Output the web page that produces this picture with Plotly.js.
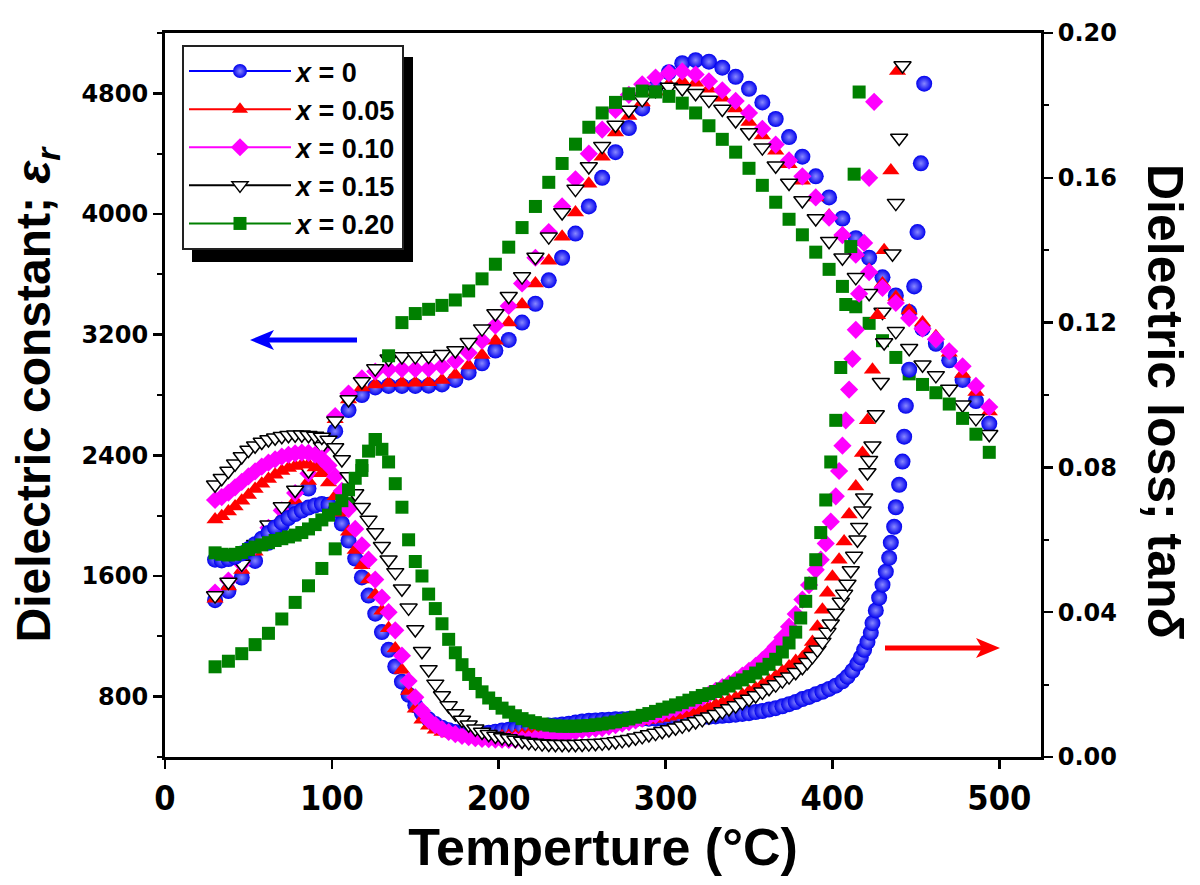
<!DOCTYPE html>
<html>
<head>
<meta charset="utf-8">
<script src="https://cdn.plot.ly/plotly-3.0.1.min.js"></script>
<style>html,body{margin:0;padding:0;background:#fff;}#chart{width:1200px;height:885px;}</style>
</head>
<body>
<div id="chart"></div>
<script>
// ---------- DATA ----------
const seriesNames = ['<i>x</i> = 0', '<i>x</i> = 0.05', '<i>x</i> = 0.10', '<i>x</i> = 0.15', '<i>x</i> = 0.20'];

// Dielectric constant (left axis) — temperature grid (°C)
const epsT = [30,38,46,54,62,70,78,86,94,102,
              110,118,126,134,142,150,158,166,174,182,
              190,198,206,214,222,230,238,246,254,262,
              270,278,286,294,302,310,318,326,334,342,
              350,358,366,374,382,390,398,406,414,422,
              430,438,446,454,462,470,478,486,494];

const eps_x000 = [1440,1500,1590,1700,1820,1940,2050,2180,2350,2560,
                  2700,2800,2850,2860,2860,2860,2862,2870,2900,2950,
                  3010,3095,3165,3280,3405,3560,3710,3870,4050,4240,
                  4410,4570,4700,4840,4940,5000,5020,5010,4970,4910,
                  4830,4740,4630,4510,4380,4250,4110,3970,3840,3710,
                  3580,3460,3350,3240,3140,3030,2900,2760,2610];
const eps_x005 = [1450,1530,1640,1760,1880,1990,2100,2230,2390,2640,
                  2770,2850,2870,2880,2882,2882,2884,2900,2935,2995,
                  3065,3160,3280,3400,3540,3690,3850,4010,4200,4380,
                  4540,4650,4740,4810,4860,4880,4870,4830,4770,4700,
                  4610,4520,4420,4330,4220,4110,3990,3870,3740,3630,
                  3540,3450,3360,3280,3190,3080,2940,2820,2690];
const eps_x010 = [1490,1570,1680,1800,1920,2035,2150,2280,2440,2660,
                  2810,2910,2955,2970,2972,2972,2975,2990,3025,3080,
                  3160,3260,3390,3540,3710,3880,4050,4230,4400,4560,
                  4690,4790,4860,4905,4935,4945,4925,4880,4820,4750,
                  4670,4565,4460,4355,4250,4110,3975,3860,3730,3615,
                  3510,3410,3310,3240,3170,3090,2990,2860,2720];
const eps_x015 = [1470,1560,1680,1810,1940,2060,2170,2300,2460,2630,
                  2770,2890,2975,3040,3055,3056,3058,3070,3095,3150,
                  3240,3340,3455,3585,3715,3850,4010,4165,4315,4450,
                  4590,4690,4760,4820,4842,4832,4800,4755,4696,4620,
                  4540,4440,4320,4205,4090,3970,3820,3710,3580,3475,
                  3350,3222,3110,3000,2930,2840,2735,2645,2540];
const eps_x020 = [998,1035,1085,1145,1220,1315,1425,1535,1650,1780,
                  2080,2300,2505,3060,3280,3340,3368,3394,3430,3490,
                  3570,3667,3780,3910,4050,4210,4335,4463,4575,4670,
                  4740,4797,4815,4809,4780,4735,4670,4585,4495,4410,
                  4303,4190,4078,3965,3862,3747,3633,3520,3385,3275,
                  3160,3049,2940,2870,2815,2740,2645,2540,2420];

// Dielectric loss (right axis) — common low-temperature grid (°C)
const lossBaseT = [30,34,38,42,46,50,54,58,62,66,70,
                   74,78,82,86,90,94,98,102,106,110,114,
                   118,122,126,130,134,138,142,146,150,154,158,
                   162,166,170,174,178,182,186,190,194,198,202,
                   206,210,214,218,222,226,230,234,238,242,246,
                   250,254,258,262,266,270,274,278,282,286,290,
                   294,298,302,306,310,314,318,322,326,330,334,
                   338,342,346,350,354,358,362,366,370,374,378];

const loss_x000 = [0.0545,0.0543,0.0547,0.0553,0.0562,0.0574,0.0588,0.0603,0.0619,0.0634,0.0648,
                   0.0660,0.0671,0.0681,0.0689,0.0695,0.0699,0.0697,0.0680,0.0645,0.0598,0.0548,
                   0.0496,0.0446,0.0396,0.0345,0.0296,0.0250,0.0208,0.0172,0.0143,0.0121,0.0104,
                   0.0091,0.0081,0.0074,0.0069,0.0066,0.0064,0.0064,0.0065,0.0067,0.0070,0.0073,
                   0.0075,0.0077,0.0079,0.0081,0.0083,0.0085,0.0087,0.0088,0.0090,0.0092,0.0095,
                   0.0098,0.0100,0.0101,0.0102,0.0103,0.0104,0.0104,0.0105,0.0105,0.0106,0.0106,
                   0.0106,0.0106,0.0107,0.0107,0.0108,0.0108,0.0109,0.0110,0.0111,0.0112,0.0114,
                   0.0115,0.0117,0.0119,0.0121,0.0124,0.0127,0.0131,0.0135,0.0140,0.0146,0.0152];
const lossTailT_x000 = [382,386,390,394,398,402,406,409,412,415,417,419,421,423,424,426,
                        428,430,432,434,435,437,438,440,442,443,444,446,449,451,453,455];
const lossTail_x000 = [0.0160,0.0166,0.0173,0.0180,0.0188,0.0197,0.0209,0.0222,0.0238,0.0258,0.0275,0.0296,0.0318,0.0343,0.0370,0.0405,
                       0.0440,0.0476,0.0512,0.0550,0.0592,0.0636,0.0690,0.0752,0.0816,0.0885,0.0970,0.1070,0.1300,0.1450,0.1640,0.1860];

const loss_x005 = [0.0656,0.0665,0.0678,0.0692,0.0708,0.0724,0.0740,0.0755,0.0768,0.0780,0.0790,
                   0.0798,0.0804,0.0808,0.0808,0.0800,0.0784,0.0758,0.0720,0.0675,0.0622,0.0572,
                   0.0530,0.0490,0.0448,0.0404,0.0356,0.0300,0.0240,0.0182,0.0133,0.0103,0.0086,
                   0.0075,0.0069,0.0065,0.0062,0.0060,0.0058,0.0057,0.0056,0.0056,0.0056,0.0057,
                   0.0058,0.0059,0.0061,0.0063,0.0065,0.0067,0.0069,0.0071,0.0073,0.0075,0.0077,
                   0.0079,0.0081,0.0083,0.0085,0.0087,0.0089,0.0091,0.0093,0.0096,0.0099,0.0102,
                   0.0105,0.0108,0.0111,0.0115,0.0119,0.0123,0.0128,0.0133,0.0138,0.0144,0.0150,
                   0.0157,0.0164,0.0172,0.0181,0.0190,0.0200,0.0211,0.0223,0.0236,0.0250,0.0265];
const lossTailT_x005 = [382,385,388,391,394,397,400,404,407,410,414,418,421,424,427,431,435,439];
const lossTail_x005 = [0.0275,0.0290,0.0318,0.0360,0.0407,0.0454,0.0498,0.0545,0.0595,0.0670,0.0747,0.0840,0.0930,0.1070,0.1220,0.1400,0.1620,0.1895];

const loss_x010 = [0.0710,0.0718,0.0730,0.0745,0.0760,0.0775,0.0789,0.0802,0.0813,0.0822,0.0830,
                   0.0835,0.0839,0.0841,0.0840,0.0835,0.0824,0.0805,0.0775,0.0735,0.0685,0.0630,
                   0.0585,0.0545,0.0490,0.0440,0.0400,0.0350,0.0280,0.0210,0.0165,0.0128,0.0102,
                   0.0088,0.0077,0.0069,0.0063,0.0058,0.0055,0.0052,0.0050,0.0049,0.0048,0.0048,
                   0.0047,0.0047,0.0048,0.0049,0.0051,0.0053,0.0056,0.0059,0.0062,0.0066,0.0070,
                   0.0074,0.0076,0.0078,0.0080,0.0084,0.0088,0.0092,0.0096,0.0101,0.0106,0.0111,
                   0.0116,0.0122,0.0128,0.0134,0.0141,0.0148,0.0156,0.0164,0.0173,0.0183,0.0193,
                   0.0203,0.0213,0.0225,0.0238,0.0252,0.0268,0.0285,0.0305,0.0330,0.0360,0.0395];
const lossTailT_x010 = [382,386,390,393,396,399,402,404,406,408,410,412,414,416,419,422,425];
const lossTail_x010 = [0.0435,0.0475,0.0517,0.0545,0.0590,0.0650,0.0720,0.0790,0.0860,0.0930,0.1015,0.1100,0.1180,0.1280,0.1420,0.1600,0.1810];

const loss_x015 = [0.0752,0.0770,0.0790,0.0810,0.0830,0.0848,0.0860,0.0870,0.0877,0.0882,0.0886,
                   0.0889,0.0890,0.0890,0.0889,0.0887,0.0884,0.0876,0.0855,0.0822,0.0775,0.0728,
                   0.0690,0.0655,0.0620,0.0582,0.0545,0.0510,0.0465,0.0412,0.0352,0.0292,0.0242,
                   0.0202,0.0170,0.0142,0.0120,0.0102,0.0089,0.0078,0.0069,0.0063,0.0058,0.0054,
                   0.0051,0.0047,0.0044,0.0041,0.0039,0.0037,0.0036,0.0035,0.0035,0.0035,0.0035,
                   0.0036,0.0037,0.0038,0.0039,0.0041,0.0043,0.0046,0.0049,0.0053,0.0057,0.0062,
                   0.0066,0.0071,0.0076,0.0081,0.0086,0.0092,0.0098,0.0104,0.0111,0.0118,0.0126,
                   0.0134,0.0142,0.0151,0.0160,0.0170,0.0180,0.0190,0.0200,0.0211,0.0222,0.0234];
const lossTailT_x015 = [382,385,388,391,394,397,399,402,405,407,409,411,413,415,416,418,419,421,422,424,426,429,431,436,438,440,442];
const lossTail_x015 = [0.0248,0.0262,0.0278,0.0296,0.0318,0.0345,0.0368,0.0398,0.0428,0.0450,0.0478,0.0515,0.0555,0.0600,
                       0.0635,0.0680,0.0716,0.0786,0.0820,0.0860,0.0946,0.1035,0.1145,0.1390,0.1530,0.1710,0.1910];

const loss_x020 = [0.0564,0.0560,0.0558,0.0560,0.0565,0.0573,0.0580,0.0586,0.0592,0.0598,0.0603,
                   0.0608,0.0613,0.0620,0.0630,0.0642,0.0655,0.0668,0.0685,0.0708,0.0738,0.0770,
                   0.0805,0.0845,0.0877,0.0850,0.0815,0.0755,0.0690,0.0600,0.0540,0.0500,0.0450,
                   0.0410,0.0368,0.0325,0.0288,0.0255,0.0228,0.0203,0.0180,0.0163,0.0148,0.0135,
                   0.0124,0.0114,0.0106,0.0100,0.0095,0.0091,0.0088,0.0086,0.0085,0.0085,0.0085,
                   0.0086,0.0087,0.0089,0.0091,0.0094,0.0097,0.0101,0.0105,0.0110,0.0115,0.0120,
                   0.0126,0.0132,0.0138,0.0144,0.0150,0.0157,0.0164,0.0170,0.0175,0.0181,0.0188,
                   0.0196,0.0204,0.0213,0.0222,0.0232,0.0243,0.0256,0.0270,0.0290,0.0315,0.0345];
const lossTailT_x020 = [381,384,387,390,393,396,399,402,405,408,411,413,416];
const lossTail_x020 = [0.0384,0.0430,0.0480,0.0545,0.0620,0.0710,0.0815,0.0930,0.1076,0.1250,0.1410,0.1610,0.1837];

const xTickVals = [0,100,200,300,400,500];

// ---------- STYLE ----------
const NARROW = "'Liberation Sans Narrow','Arial Narrow','DejaVu Sans Condensed',sans-serif";
const WIDE = "'DejaVu Sans',Verdana,sans-serif";
const ARIAL = "'Liberation Sans',Arial,sans-serif";

const markers = [
  {symbol:'circle', size:16, color:'#0000ee', gradient:{type:'radial', color:'#8888ff'}, line:{width:0}},
  {symbol:'triangle-up', size:15, color:'#ff0000', line:{width:0}},
  {symbol:'diamond', size:14, color:'#ff00ff', line:{width:0}},
  {symbol:'triangle-down', size:15, color:'#ffffff', line:{width:1.5, color:'#000000'}},
  {symbol:'square', size:13, color:'#008000', line:{width:0}}
];
const lineColors = ['#0000ff', '#ff0000', '#ff00ff', '#000000', '#008000'];

const epsData = [eps_x000, eps_x005, eps_x010, eps_x015, eps_x020];
const lossBase = [loss_x000, loss_x005, loss_x010, loss_x015, loss_x020];
const lossTailT = [lossTailT_x000, lossTailT_x005, lossTailT_x010, lossTailT_x015, lossTailT_x020];
const lossTail = [lossTail_x000, lossTail_x005, lossTail_x010, lossTail_x015, lossTail_x020];

const traces = [];
// legend entries (line + symbol)
for (let i = 0; i < 5; i++) {
  traces.push({
    type:'scatter', mode:'lines+markers', x:[null], y:[null],
    name: seriesNames[i], legendgroup:'g'+i, showlegend:true,
    line:{color: lineColors[i], width:2},
    marker: Object.assign({}, markers[i], {size: Math.min(markers[i].size, 14)}),
    hoverinfo:'skip'
  });
}
// dielectric constant
for (let i = 0; i < 5; i++) {
  traces.push({
    type:'scatter', mode:'markers', x: epsT, y: epsData[i], yaxis:'y',
    name: seriesNames[i] + ' ε', legendgroup:'g'+i, showlegend:false,
    marker: markers[i]
  });
}
// dielectric loss
for (let i = 0; i < 5; i++) {
  traces.push({
    type:'scatter', mode:'markers', x: lossBaseT.concat(lossTailT[i]), y: lossBase[i].concat(lossTail[i]), yaxis:'y2',
    name: seriesNames[i] + ' tanδ', legendgroup:'g'+i, showlegend:false,
    marker: markers[i]
  });
}

const axisCommon = {
  showgrid:false, zeroline:false, showline:true, linewidth:3, linecolor:'#000',
  ticks:'outside', ticklen:9, tickwidth:2.5, tickcolor:'#000'
};

// paper coordinates of the plot frame (plot area 165..1041 x 33..757 px)
const px = v => (v - 165) / 876;
const py = v => (757 - v) / 724;

const layout = {
  width:1200, height:885,
  margin:{l:165, r:159, t:33, b:128, pad:0},
  paper_bgcolor:'#ffffff', plot_bgcolor:'#ffffff',
  showlegend:true,
  legend:{
    x:px(182), y:py(45), xanchor:'left', yanchor:'top',
    bgcolor:'#ffffff', bordercolor:'#222222', borderwidth:2,
    font:{family:ARIAL, size:27, weight:'bold', color:'#000'},
    tracegroupgap:0, itemwidth:102
  },
  xaxis: Object.assign({}, axisCommon, {
    range:[0,525], tickmode:'array', tickvals:xTickVals, mirror:true,
    tickfont:{family:NARROW, size:34, weight:'bold', color:'#000'},
    title:{text:'Temperture (°C)', font:{family:ARIAL, size:52, weight:'bold', color:'#000'}, standoff:12}
  }),
  yaxis: Object.assign({}, axisCommon, {
    range:[400,5200], tick0:0, dtick:800,
    minor:{dtick:400, tick0:0, ticks:'outside', ticklen:5, tickwidth:2, tickcolor:'#000', showgrid:false},
    tickfont:{family:WIDE, size:24, weight:'bold', color:'#000'},
    title:{text:'Dielectric constant; <i>ε</i><sub><i>r</i></sub>', font:{family:ARIAL, size:48, weight:'bold', color:'#000'}, standoff:16}
  }),
  yaxis2: Object.assign({}, axisCommon, {
    overlaying:'y', side:'right', range:[0,0.2], tick0:0, dtick:0.04, tickformat:'.2f',
    minor:{dtick:0.02, tick0:0, ticks:'outside', ticklen:5, tickwidth:2, tickcolor:'#000', showgrid:false},
    tickfont:{family:WIDE, size:24, weight:'bold', color:'#000'}
  }),
  shapes:[
    // legend shadow
    {type:'rect', xref:'paper', yref:'paper', x0:px(192), x1:px(413), y0:py(262), y1:py(57),
     fillcolor:'#000000', line:{width:0}, layer:'above'},
    // blue arrow (points to the left axis)
    {type:'line', xref:'paper', yref:'paper', x0:px(357), x1:px(266), y0:py(340), y1:py(340),
     line:{color:'#0000ff', width:5}, layer:'above'},
    {type:'path', xref:'paper', yref:'paper', layer:'above', fillcolor:'#0000ff', line:{width:0},
     path:'M'+px(250)+','+py(340)+' L'+px(274)+','+py(330)+' L'+px(268)+','+py(340)+' L'+px(274)+','+py(350)+' Z'},
    // red arrow (points to the right axis)
    {type:'line', xref:'paper', yref:'paper', x0:px(885), x1:px(984), y0:py(648), y1:py(648),
     line:{color:'#ff0000', width:5}, layer:'above'},
    {type:'path', xref:'paper', yref:'paper', layer:'above', fillcolor:'#ff0000', line:{width:0},
     path:'M'+px(1000)+','+py(648)+' L'+px(976)+','+py(638)+' L'+px(982)+','+py(648)+' L'+px(976)+','+py(658)+' Z'}
  ],
  annotations:[
    {text:'Dielectric loss; tan<i>δ</i>', xref:'paper', yref:'paper', x:px(1165), y:py(402),
     textangle:90, showarrow:false, xanchor:'center', yanchor:'middle',
     font:{family:ARIAL, size:50, weight:'bold', color:'#000'}}
  ]
};

Plotly.newPlot('chart', traces, layout, {staticPlot:true, displayModeBar:false});
</script>
</body>
</html>
